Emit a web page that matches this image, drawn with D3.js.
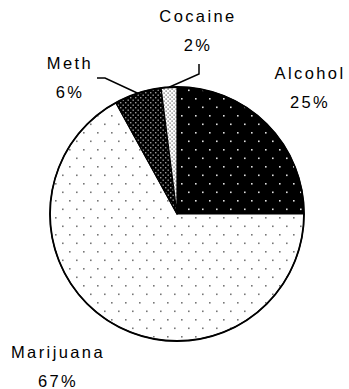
<!DOCTYPE html>
<html>
<head>
<meta charset="utf-8">
<script src="https://cdn.jsdelivr.net/npm/d3@7/dist/d3.min.js"></script>
<style>
  html, body { margin: 0; padding: 0; background: #fff; }
  svg { display: block; }
  text { font-family: "Liberation Sans", Arial, sans-serif; font-size: 16.5px; letter-spacing: 2.4px; fill: #000; }
</style>
</head>
<body>
<svg id="chart" width="349" height="389"></svg>
<script>
// Share of substances (percent)
const categories = ["Alcohol", "Marijuana", "Meth", "Cocaine"];
const values = [25, 67, 6, 2];
const fills = ["url(#pAlcohol)", "url(#pMarijuana)", "url(#pMeth)", "url(#pCocaine)"];

const width = 349, height = 389;
const cx = 177, cy = 214, radius = 127;

const svg = d3.select("#chart");
const defs = svg.append("defs");

// Dotted fill patterns for each slice
function dotPattern(id, w, h, bg, dot, size, pts) {
  const p = defs.append("pattern")
    .attr("id", id).attr("patternUnits", "userSpaceOnUse")
    .attr("width", w).attr("height", h);
  p.append("rect").attr("width", w).attr("height", h).attr("fill", bg);
  pts.forEach(([x, y]) => p.append("rect")
    .attr("x", x).attr("y", y).attr("width", size).attr("height", size).attr("fill", dot));
}
dotPattern("pAlcohol", 14, 17, "#000", "#e0e0e0", 1.6, [[4, 3], [11, 11.5]]);
dotPattern("pMarijuana", 14, 17, "#fff", "#777", 1.6, [[4, 3], [11, 11.5]]);
dotPattern("pMeth", 5, 5, "#000", "#999", 1.4, [[0.5, 0.5], [3, 3]]);
dotPattern("pCocaine", 4, 4, "#fff", "#555", 1.2, [[0.5, 0.5], [2.5, 2.5]]);

const pie = d3.pie().sort(null).value(d => d);
const arcs = pie(values);
const arc = d3.arc().innerRadius(0).outerRadius(radius);

const g = svg.append("g").attr("transform", `translate(${cx},${cy})`);
g.selectAll("path.slice")
  .data(arcs)
  .join("path")
  .attr("class", "slice")
  .attr("d", arc)
  .attr("fill", (d, i) => fills[i])
  .attr("stroke", "#000")
  .attr("stroke-width", 1.2)
  .attr("stroke-linejoin", "round");

// Outer rim
g.append("circle").attr("r", radius).attr("fill", "none")
  .attr("stroke", "#000").attr("stroke-width", 1.8);

// Label layout: label centre (x, baseline) and optional leader elbow
const labelLayout = {
  Alcohol:   { x: 310, y: 79 },
  Marijuana: { x: 58,  y: 358 },
  Meth:      { x: 70,  y: 69, elbow: [105, 78], end: [97, 78] },
  Cocaine:   { x: 198, y: 22, elbow: [199, 74], end: [199, 64] }
};

const rimArc = d3.arc().innerRadius(radius).outerRadius(radius);

arcs.forEach((d, i) => {
  const name = categories[i];
  const L = labelLayout[name];
  if (L.elbow) {
    const [px, py] = rimArc.centroid(d);
    svg.append("path")
      .attr("d", d3.line()([[cx + px, cy + py], L.elbow, L.end]))
      .attr("fill", "none").attr("stroke", "#000").attr("stroke-width", 1.5);
  }
  svg.append("text").attr("x", L.x).attr("y", L.y)
    .attr("text-anchor", "middle").text(name);
  svg.append("text").attr("x", L.x).attr("y", L.y + 29)
    .attr("text-anchor", "middle").text(values[i] + "%");
});
</script>
</body>
</html>
